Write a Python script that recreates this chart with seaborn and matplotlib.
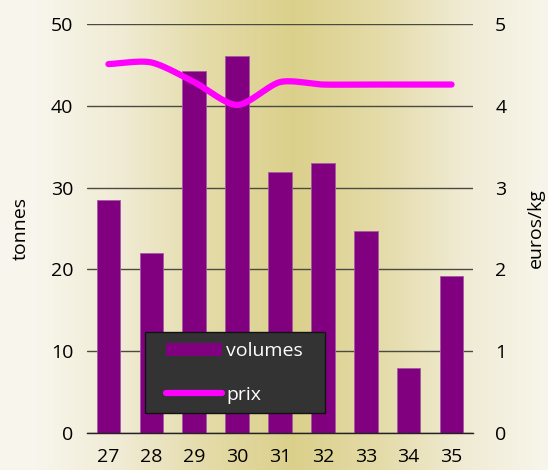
import numpy as np
import pandas as pd
import matplotlib
matplotlib.use("Agg")
import matplotlib.pyplot as plt
import seaborn as sns
from matplotlib.colors import LinearSegmentedColormap
from matplotlib.lines import Line2D
from matplotlib.patches import Patch, Rectangle

# Weekly volumes (tonnes) and prices (euros/kg)
weeks = ["27", "28", "29", "30", "31", "32", "33", "34", "35"]
volumes = [28.5, 22.0, 44.3, 46.1, 31.9, 33.0, 24.7, 8.0, 19.2]
prix = [4.51, 4.53, 4.29, 4.01, 4.29, 4.26, 4.26, 4.26, 4.26]

BAR_COLOR = "#800080"
LINE_COLOR = "#ff00ff"

sns.set_theme(style="white")
plt.rcParams["font.family"] = ["Open Sans", "DejaVu Sans"]
FS = 14

W, H = 548, 470


def smooth_curve(xs, ys, n=30):
    """Catmull-Rom curve through the points, like a spreadsheet 'smoothed line'."""
    xs = np.asarray(xs, float)
    ys = np.asarray(ys, float)
    px = np.concatenate([[2 * xs[0] - xs[1]], xs, [2 * xs[-1] - xs[-2]]])
    py = np.concatenate([[2 * ys[0] - ys[1]], ys, [2 * ys[-1] - ys[-2]]])
    out_x, out_y = [], []
    t = np.linspace(0, 1, n, endpoint=False)
    for i in range(1, len(px) - 2):
        for arr, out in ((px, out_x), (py, out_y)):
            p0, p1, p2, p3 = arr[i - 1], arr[i], arr[i + 1], arr[i + 2]
            m1 = (p2 - p0) / 2 * 0.8
            m2 = (p3 - p1) / 2 * 0.8
            h00 = 2 * t**3 - 3 * t**2 + 1
            h10 = t**3 - 2 * t**2 + t
            h01 = -2 * t**3 + 3 * t**2
            h11 = t**3 - t**2
            out.extend(h00 * p1 + h10 * m1 + h01 * p2 + h11 * m2)
    out_x.append(xs[-1])
    out_y.append(ys[-1])
    return np.array(out_x), np.array(out_y)


fig = plt.figure(figsize=(W / 100, H / 100), dpi=100)

# Horizontal gradient backdrop: pale cream at the edges, khaki in the middle
bg = fig.add_axes([0, 0, 1, 1], zorder=-10)
bg.set_axis_off()
xx = np.linspace(0, 1, W)
dist = np.clip(np.abs(xx - 0.535) / 0.47, 0, 1)
grad = np.tile(dist, (2, 1))
cmap = LinearSegmentedColormap.from_list("khaki", ["#dbd08b", "#e4dba8", "#f0ebd4", "#f8f6ec"])
bg.imshow(grad, aspect="auto", cmap=cmap, extent=[0, 1, 0, 1], vmin=0, vmax=1)

ax = fig.add_axes([87 / W, 1 - 433 / H, 386 / W, 409 / H])
ax.patch.set_alpha(0)

df = pd.DataFrame({"semaine": weeks, "volumes": volumes, "prix": prix})
sns.barplot(data=df, x="semaine", y="volumes", color=BAR_COLOR, saturation=1,
            width=0.55, edgecolor="#a35aa3", linewidth=0.6, ax=ax, zorder=3)

ax.set_ylim(0, 50)
ax.set_xlim(-0.5, len(weeks) - 0.5)
ax.set_yticks(range(0, 51, 10))
ax.yaxis.grid(True, color="#4a4a40", linewidth=1.0, zorder=0)
ax.set_axisbelow(True)
for s in ["left", "right", "top"]:
    ax.spines[s].set_visible(False)
ax.spines["bottom"].set_color("#222222")
ax.spines["bottom"].set_linewidth(1.0)
ax.spines["bottom"].set_zorder(5)

ax.set_xticks(np.arange(len(weeks)))
ax.set_xticklabels(weeks)
ax.set_xticks(np.arange(-0.5, len(weeks)), minor=True)
ax.tick_params(axis="x", which="major", length=0, pad=11, labelsize=FS, colors="black")
ax.tick_params(axis="x", which="minor", length=6, width=0.9, color="#444444", direction="out")
ax.tick_params(axis="y", length=0, pad=10, labelsize=FS, colors="black")
ax.set_xlabel("")
ax.set_ylabel("tonnes", fontsize=FS, color="black", labelpad=15)

ax2 = ax.twinx()
ax2.set_ylim(0, 5)
ax2.set_yticks(range(0, 6))
for s in ["left", "right", "top", "bottom"]:
    ax2.spines[s].set_visible(False)
ax2.tick_params(axis="y", length=0, pad=16, labelsize=FS, colors="black")
ax2.set_ylabel("euros/kg", fontsize=FS, color="black", labelpad=15)

cx, cy = smooth_curve(np.arange(len(weeks)), prix)
ax2.plot(cx, cy, color=LINE_COLOR, linewidth=4.5, solid_capstyle="round",
         solid_joinstyle="round", zorder=6)

# Legend: dark box with white labels
box = Rectangle((145 / W, 1 - 413 / H), 180 / W, 81 / H, transform=fig.transFigure,
                facecolor="#333333", edgecolor="#111111", linewidth=1.0, zorder=20)
fig.add_artist(box)
handles = [Patch(facecolor=BAR_COLOR, edgecolor="none"),
           Line2D([0], [0], color=LINE_COLOR, linewidth=4.5, solid_capstyle="round")]
leg = fig.legend(handles, ["volumes", "prix"], loc="center left",
                 bbox_to_anchor=(166 / W, 1 - 373 / H), bbox_transform=fig.transFigure,
                 frameon=False, fontsize=FS, labelcolor="white", handlelength=2.9,
                 handleheight=0.6, handletextpad=0.2, labelspacing=1.3,
                 borderpad=0, borderaxespad=0)
leg.set_zorder(21)

fig.savefig("out.png", dpi=100)
